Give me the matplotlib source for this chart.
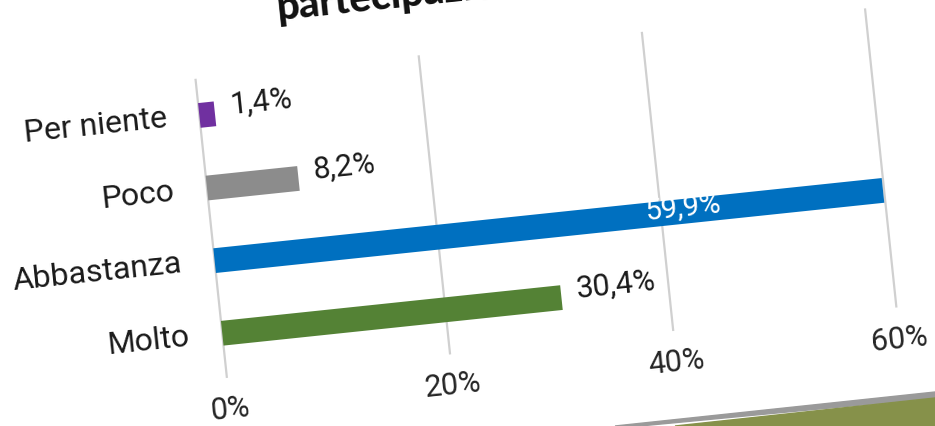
import matplotlib.pyplot as plt
from matplotlib.transforms import Affine2D
from matplotlib.patches import Polygon

# data
categories = ["Per niente", "Poco", "Abbastanza", "Molto"]
values = [1.4, 8.2, 59.9, 30.4]
value_labels = ["1,4%", "8,2%", "59,9%", "30,4%"]
bar_colors = ["#7030A0", "#8C8C8C", "#0070C0", "#548235"]
ticks = [0, 20, 40, 60]
tick_labels = ["0%", "20%", "40%", "60%"]
title = "partecipazione"

W, H = 935, 426
fig = plt.figure(figsize=(W / 100, H / 100), dpi=100)
ax = fig.add_axes([0, 0, 1, 1])
ax.set_xlim(-211 / 11.22, (W - 211) / 11.22)
ax.set_ylim((H - 88) / 73, -88 / 73)
ax.axis("off")

# the screenshot is tilted about 6 degrees
rot = Affine2D().rotate_deg_around(467, 213, 6)
tr = ax.transData + rot
ang = 6

for t, lab in zip(ticks, tick_labels):
    ax.plot([t, t], [-0.49, 3.6], color="#D0D0D0", lw=1.6, transform=tr, clip_on=False, zorder=1)
    ax.text(t, 4.05, lab, ha="center", va="center",
            fontsize=22, family="Roboto", color="#262626", rotation=ang,
            rotation_mode="anchor", transform=tr)

y = range(len(categories))
bars = ax.barh(y, values, height=0.34, color=bar_colors, zorder=2)
for b in bars:
    b.set_transform(tr)
    b.set_clip_on(False)

for i, cat in enumerate(categories):
    ax.text(-2.9, i, cat, ha="right", va="center", fontsize=23, family="Roboto",
            color="#1a1a1a", rotation=ang, rotation_mode="anchor", transform=tr)

for i, (v, lab) in enumerate(zip(values, value_labels)):
    if v > 50:
        ax.text(42, i - 0.05, lab, ha="center", va="center", fontsize=21, family="Roboto",
                color="white", rotation=ang, rotation_mode="anchor", transform=tr, zorder=3)
    else:
        ax.text(v + 1.4, i - 0.1, lab, ha="left", va="center", fontsize=22, family="Roboto",
                color="#1a1a1a", rotation=ang, rotation_mode="anchor", transform=tr)

ax.text(7.9, -1.19, title, ha="left", va="baseline", fontsize=29, family="Lato",
        fontweight="black", color="#111111", rotation=ang, rotation_mode="anchor",
        transform=tr)

# slide decoration in the bottom right corner
fig.patches.append(Polygon([(615, 0), (935, 34), (935, 28), (640, 0)], closed=True,
                           color="#9a9a9a", transform=None, zorder=5))
fig.patches.append(Polygon([(675, 0), (935, 28), (935, 0)], closed=True,
                           color="#86914A", transform=None, zorder=6))

fig.savefig("out.png", dpi=100)
